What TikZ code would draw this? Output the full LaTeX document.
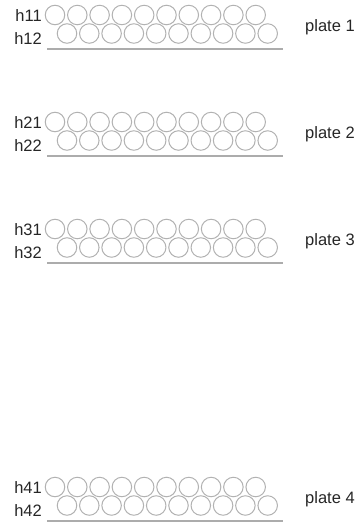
\documentclass[tikz,border=0pt]{standalone}
\usepackage{fontspec}
\setmainfont{Liberation Sans}
\begin{document}
\begin{tikzpicture}[x=1pt,y=-1pt,
  hole/.style={shape=circle,draw=gray!60,line width=1pt,minimum size=19.5pt,inner sep=0pt},
  tag/.style={font=\fontsize{16.5}{18}\selectfont,text=black!85,inner sep=0pt}]
  \useasboundingbox (0,0) rectangle (358,525);

  \foreach \p/\t in {1/15, 2/122, 3/229, 4/487} {
    \node[tag,anchor=base east] (h\p1) at (42,\t+6) {h\p1};
    \node[tag,anchor=base east] (h\p2) at (42,\t+29) {h\p2};
    \node[tag,anchor=base west] (plate\p) at (305,\t+16) {plate \p};
    \foreach \i in {0,...,9} {
      \node[hole] (a\p\i) at (55+22.3*\i,\t) {};
      \node[hole] (b\p\i) at (67+22.3*\i,\t+18.5) {};
    }
    \coordinate (l\p) at (47,\t+34);
    \coordinate (r\p) at (283,\t+34);
    \draw[gray!65,line width=1.5pt] (l\p) -- (r\p);
  }

\end{tikzpicture}
\end{document}
